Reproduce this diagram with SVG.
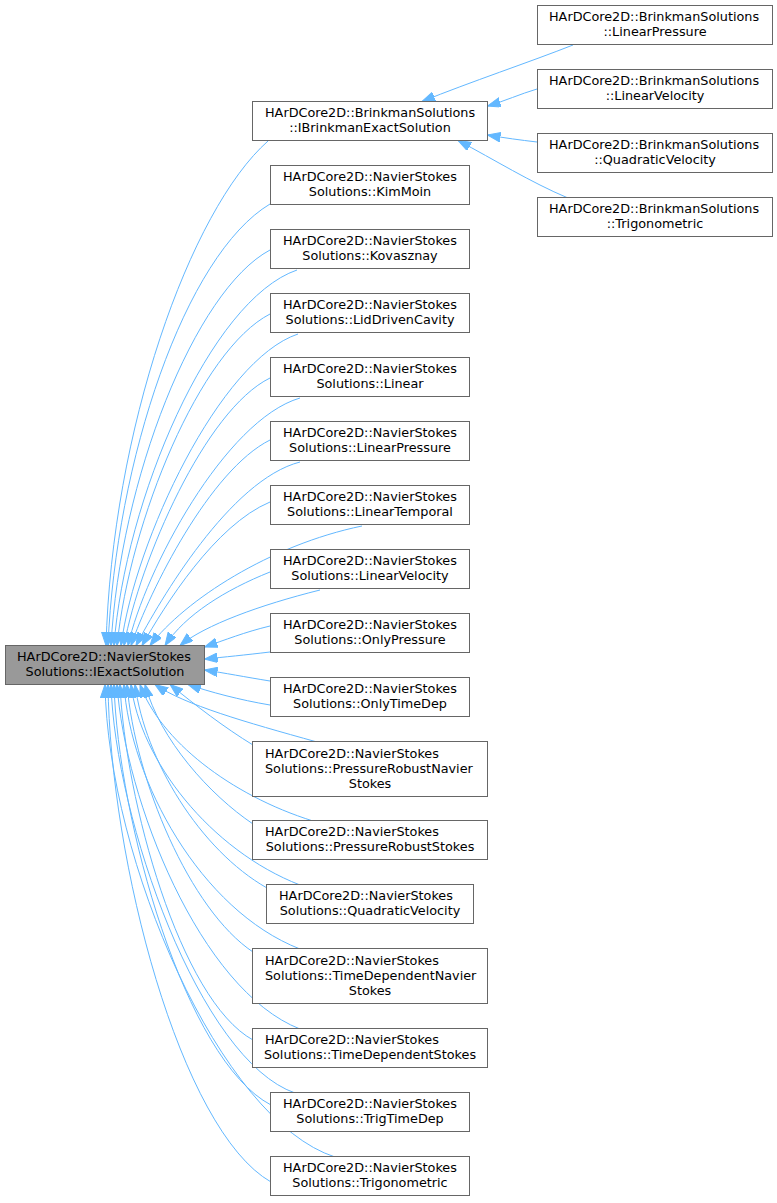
<svg xmlns="http://www.w3.org/2000/svg" width="777" height="1203" viewBox="0 0 777 1203">
<defs>
<marker id="ah" markerUnits="userSpaceOnUse" markerWidth="14" markerHeight="10" refX="13" refY="4.75" orient="auto">
<path d="M0,0 L13,4.75 L0,9.5 z" fill="#63b8ff" stroke="#63b8ff" stroke-width="1"/>
</marker>
<style>
.n rect{fill:#ffffff;stroke:#666666;stroke-width:1}
.r rect{fill:#999999;stroke:#666666;stroke-width:1}
text{font-family:"DejaVu Sans","Liberation Sans",sans-serif;font-size:12.8px;fill:#000000}
.s{text-anchor:start}
.m{text-anchor:middle}
#edges path{fill:none;stroke:#63b8ff;stroke-width:1;marker-end:url(#ah)}
</style>
</defs>
<rect width="777" height="1203" fill="#ffffff"/>
<g id="edges">
<path d="M573,45 C530,62 470,82 422,101.5"/>
<path d="M537,89 C520,94 505,101 487.5,106"/>
<path d="M537,142 C520,140 505,138 487.5,135"/>
<path d="M568,198 C530,182 495,160 458,140.5"/>
<path d="M268,141 C190,210 112,430 106,645.5"/>
<path d="M270,204 C185,255 116,460 108,645.5"/>
<path d="M270,250 C195,290 120,480 111,645.5"/>
<path d="M297,270 C210,300 125,500 114,645.5"/>
<path d="M270,314 C200,350 130,520 117,645.5"/>
<path d="M298,334 C220,360 135,540 121,645.5"/>
<path d="M270,378 C205,410 140,560 124,645.5"/>
<path d="M300,398 C225,420 145,570 128,645.5"/>
<path d="M270,440 C210,470 150,590 131,645.5"/>
<path d="M300,462 C230,480 160,600 136,645.5"/>
<path d="M270,502 C215,525 165,605 142,645.5"/>
<path d="M362,526 C270,545 185,600 150,645.5"/>
<path d="M270,572 C225,590 185,615 165,645.5"/>
<path d="M320,590 C260,605 205,625 180,645.5"/>
<path d="M270,626 C245,632 225,640 204.5,647"/>
<path d="M270,652 C245,655 225,657 204.5,659"/>
<path d="M270,681 C245,677 225,673 204.5,670"/>
<path d="M270,705 C240,700 210,692 188,684.5"/>
<path d="M253,745 C225,728 195,705 170,684.5"/>
<path d="M317,742 C245,722 185,705 155,684.5"/>
<path d="M253,824 C210,795 160,740 145,684.5"/>
<path d="M313,821 C230,795 160,740 140,684.5"/>
<path d="M267,888 C200,850 145,760 135,684.5"/>
<path d="M300,885 C210,850 140,760 131,684.5"/>
<path d="M253,952 C190,910 135,780 127,684.5"/>
<path d="M300,949 C200,910 130,780 124,684.5"/>
<path d="M253,1040 C180,1000 125,800 120,684.5"/>
<path d="M300,1029 C200,990 125,800 117,684.5"/>
<path d="M271,1105 C185,1060 118,820 114,684.5"/>
<path d="M295,1093 C200,1060 115,820 111,684.5"/>
<path d="M271,1182 C180,1130 110,860 108,684.5"/>
<path d="M335,1157 C220,1120 108,860 105,684.5"/>
</g>
<g id="root" class="r"><rect x="5.5" y="645.5" width="199" height="39"/><text class="s" x="17" y="661">HArDCore2D::NavierStokes</text><text class="m" x="105" y="676">Solutions::IExactSolution</text></g>
<g id="ibrinkman" class="n"><rect x="252.5" y="101.5" width="235" height="39"/><text class="s" x="265" y="117">HArDCore2D::BrinkmanSolutions</text><text class="m" x="370" y="132">::IBrinkmanExactSolution</text></g>
<g id="b_linearpressure" class="n"><rect x="537.5" y="5.5" width="235" height="39"/><text class="s" x="549" y="21">HArDCore2D::BrinkmanSolutions</text><text class="m" x="655" y="36">::LinearPressure</text></g>
<g id="b_linearvelocity" class="n"><rect x="537.5" y="69.5" width="235" height="39"/><text class="s" x="549" y="85">HArDCore2D::BrinkmanSolutions</text><text class="m" x="655" y="100">::LinearVelocity</text></g>
<g id="b_quadraticvelocity" class="n"><rect x="537.5" y="133.5" width="235" height="39"/><text class="s" x="549" y="149">HArDCore2D::BrinkmanSolutions</text><text class="m" x="655" y="164">::QuadraticVelocity</text></g>
<g id="b_trigonometric" class="n"><rect x="537.5" y="197.5" width="235" height="39"/><text class="s" x="549" y="213">HArDCore2D::BrinkmanSolutions</text><text class="m" x="655" y="228">::Trigonometric</text></g>
<g id="kimmoin" class="n"><rect x="270.5" y="165.5" width="199" height="39"/><text class="s" x="283" y="181">HArDCore2D::NavierStokes</text><text class="m" x="370" y="196">Solutions::KimMoin</text></g>
<g id="kovasznay" class="n"><rect x="270.5" y="229.5" width="199" height="39"/><text class="s" x="283" y="245">HArDCore2D::NavierStokes</text><text class="m" x="370" y="260">Solutions::Kovasznay</text></g>
<g id="liddrivencavity" class="n"><rect x="270.5" y="293.5" width="199" height="39"/><text class="s" x="283" y="309">HArDCore2D::NavierStokes</text><text class="m" x="370" y="324">Solutions::LidDrivenCavity</text></g>
<g id="linear" class="n"><rect x="270.5" y="357.5" width="199" height="39"/><text class="s" x="283" y="373">HArDCore2D::NavierStokes</text><text class="m" x="370" y="388">Solutions::Linear</text></g>
<g id="linearpressure" class="n"><rect x="270.5" y="421.5" width="199" height="39"/><text class="s" x="283" y="437">HArDCore2D::NavierStokes</text><text class="m" x="370" y="452">Solutions::LinearPressure</text></g>
<g id="lineartemporal" class="n"><rect x="270.5" y="485.5" width="199" height="39"/><text class="s" x="283" y="501">HArDCore2D::NavierStokes</text><text class="m" x="370" y="516">Solutions::LinearTemporal</text></g>
<g id="linearvelocity" class="n"><rect x="270.5" y="549.5" width="199" height="39"/><text class="s" x="283" y="565">HArDCore2D::NavierStokes</text><text class="m" x="370" y="580">Solutions::LinearVelocity</text></g>
<g id="onlypressure" class="n"><rect x="270.5" y="613.5" width="199" height="39"/><text class="s" x="283" y="629">HArDCore2D::NavierStokes</text><text class="m" x="370" y="644">Solutions::OnlyPressure</text></g>
<g id="onlytimedep" class="n"><rect x="270.5" y="677.5" width="199" height="39"/><text class="s" x="283" y="693">HArDCore2D::NavierStokes</text><text class="m" x="370" y="708">Solutions::OnlyTimeDep</text></g>
<g id="pressurerobustnavierstokes" class="n"><rect x="252.5" y="741.5" width="235" height="55"/><text class="s" x="265" y="758">HArDCore2D::NavierStokes</text><text class="s" x="265" y="773">Solutions::PressureRobustNavier</text><text class="m" x="370" y="788">Stokes</text></g>
<g id="pressurerobuststokes" class="n"><rect x="252.5" y="820.5" width="235" height="39"/><text class="s" x="265" y="836">HArDCore2D::NavierStokes</text><text class="m" x="370" y="851">Solutions::PressureRobustStokes</text></g>
<g id="quadraticvelocity" class="n"><rect x="266.5" y="884.5" width="207" height="39"/><text class="s" x="279" y="900">HArDCore2D::NavierStokes</text><text class="m" x="370" y="915">Solutions::QuadraticVelocity</text></g>
<g id="timedependentnavierstokes" class="n"><rect x="252.5" y="948.5" width="235" height="55"/><text class="s" x="265" y="965">HArDCore2D::NavierStokes</text><text class="s" x="265" y="980">Solutions::TimeDependentNavier</text><text class="m" x="370" y="995">Stokes</text></g>
<g id="timedependentstokes" class="n"><rect x="252.5" y="1028.5" width="235" height="39"/><text class="s" x="265" y="1044">HArDCore2D::NavierStokes</text><text class="m" x="370" y="1059">Solutions::TimeDependentStokes</text></g>
<g id="trigtimedep" class="n"><rect x="270.5" y="1092.5" width="199" height="39"/><text class="s" x="283" y="1108">HArDCore2D::NavierStokes</text><text class="m" x="370" y="1123">Solutions::TrigTimeDep</text></g>
<g id="trigonometric" class="n"><rect x="270.5" y="1156.5" width="199" height="39"/><text class="s" x="283" y="1172">HArDCore2D::NavierStokes</text><text class="m" x="370" y="1187">Solutions::Trigonometric</text></g>
</svg>
